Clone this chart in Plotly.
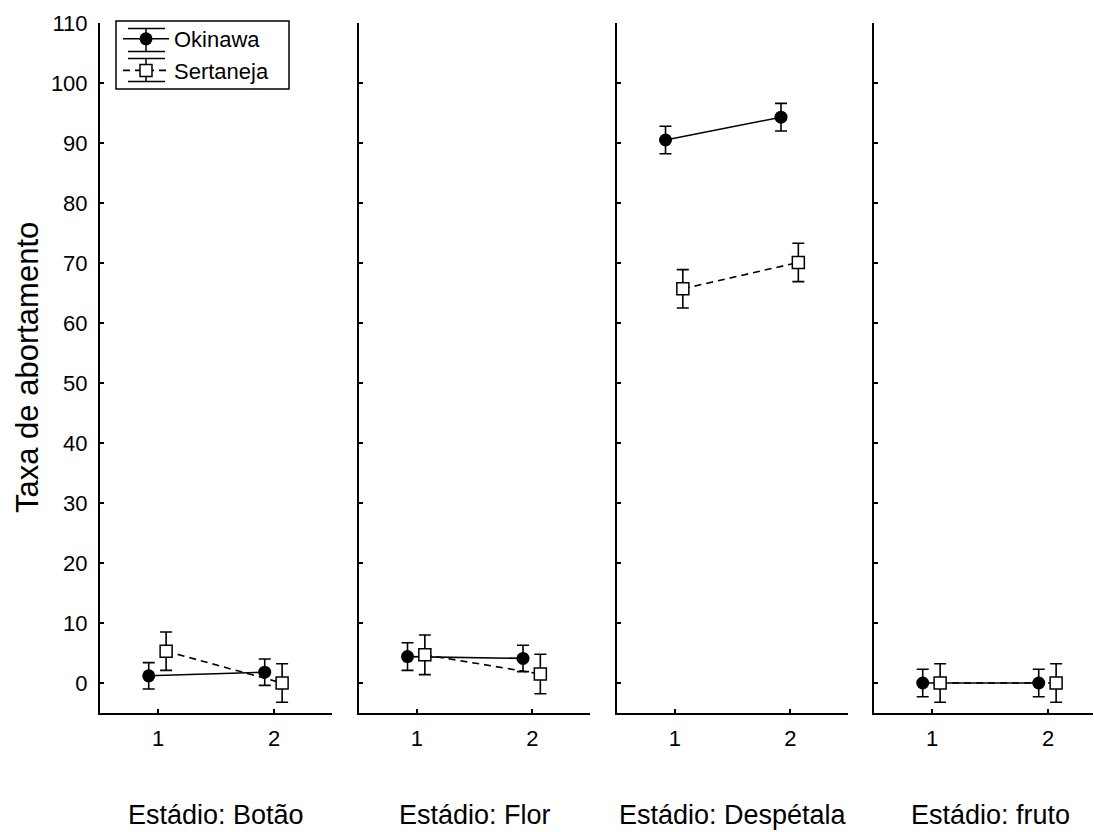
import plotly.graph_objects as go

# Abortion rate by stage and variety (mean ± standard error)
stages = ["Botão", "Flor", "Despétala", "fruto"]
levels = [1, 2]

okinawa_mean = [[1.2, 1.8], [4.4, 4.1], [90.5, 94.3], [0.0, 0.0]]
okinawa_err = [[2.2, 2.2], [2.3, 2.2], [2.3, 2.3], [2.3, 2.3]]

sertaneja_mean = [[5.3, 0.0], [4.7, 1.5], [65.7, 70.1], [0.0, 0.0]]
sertaneja_err = [[3.2, 3.2], [3.3, 3.3], [3.2, 3.2], [3.2, 3.2]]

y_ticks = list(range(0, 111, 10))

FONT = "Liberation Sans, Arial, sans-serif"
W, H = 1094, 832
ML, MR, MT, MB = 100, 1, 23, 119
plot_w = W - ML - MR
plot_h = H - MT - MB

# panel pixel extents (left, right); the last panel runs off the right edge
panel_px = [(100, 332), (359, 590), (617, 848), (874, 1093)]
domains = [[(a - ML) / plot_w, (b - ML) / plot_w] for a, b in panel_px]
unit_px = 116  # pixels per x unit in a full panel
x_ranges = [[0.5, 2.5]] * 3 + [[0.5, 0.5 + (panel_px[3][1] - panel_px[3][0]) / unit_px]]


def px_x(px):
    return (px - ML) / plot_w


def px_y(py):
    return (H - MB - py) / plot_h


fig = go.Figure()

for i, stage in enumerate(stages):
    xa = "x" if i == 0 else f"x{i+1}"
    ya = "y" if i == 0 else f"y{i+1}"
    fig.add_trace(go.Scatter(
        x=[lv - 0.08 for lv in levels], y=okinawa_mean[i],
        mode="lines+markers", name="Okinawa", showlegend=(i == 0),
        line=dict(color="black", width=1.6),
        marker=dict(symbol="circle", size=13, color="black"),
        error_y=dict(type="data", array=okinawa_err[i], color="black",
                     thickness=1.6, width=6),
        xaxis=xa, yaxis=ya,
    ))
    fig.add_trace(go.Scatter(
        x=[lv + 0.07 for lv in levels], y=sertaneja_mean[i],
        mode="lines+markers", name="Sertaneja", showlegend=(i == 0),
        line=dict(color="black", width=1.6, dash="7px,5px"),
        marker=dict(symbol="square", size=12, color="white",
                    line=dict(color="black", width=1.5)),
        error_y=dict(type="data", array=sertaneja_err[i], color="black",
                     thickness=1.6, width=6),
        xaxis=xa, yaxis=ya,
    ))

axis_common = dict(showgrid=False, zeroline=False, showline=True,
                   linecolor="black", linewidth=2, ticks="inside",
                   ticklen=4, tickwidth=1.5, tickcolor="black",
                   tickfont=dict(family=FONT, size=22, color="black"))

legend_left = 118
legend_top = 18
layout = dict(
    width=W, height=H,
    margin=dict(l=ML, r=MR, t=MT, b=MB),
    paper_bgcolor="white", plot_bgcolor="white",
    font=dict(family=FONT, color="black"),
    showlegend=True,
    legend=dict(x=px_x(legend_left), y=px_y(legend_top),
                xanchor="left", yanchor="top",
                borderwidth=0, bgcolor="rgba(0,0,0,0)",
                font=dict(family=FONT, size=22, color="black"),
                tracegroupgap=0, itemwidth=46),
)

for i, stage in enumerate(stages):
    xk = "xaxis" if i == 0 else f"xaxis{i+1}"
    yk = "yaxis" if i == 0 else f"yaxis{i+1}"
    ya = "y" if i == 0 else f"y{i+1}"
    xa = "x" if i == 0 else f"x{i+1}"
    layout[xk] = dict(axis_common, domain=domains[i], range=x_ranges[i],
                      tickvals=levels, ticktext=[str(v) for v in levels],
                      anchor=ya, ticklabelstandoff=5)
    layout[yk] = dict(axis_common, domain=[0, 1], range=[-5, 110],
                      tickvals=y_ticks, anchor=xa,
                      showticklabels=(i == 0), ticklabelstandoff=6)

fig.update_layout(**layout)

# legend frame and error-bar caps on the legend symbols
fig.add_shape(type="rect", xref="paper", yref="paper",
              x0=px_x(116), x1=px_x(289), y0=px_y(89), y1=px_y(21),
              line=dict(color="black", width=1.5), fillcolor="rgba(0,0,0,0)")
for cy in (40, 70):
    for dy in (-11.5, 11.5):
        fig.add_shape(type="line", xref="paper", yref="paper",
                      x0=px_x(128), x1=px_x(165),
                      y0=px_y(cy + dy), y1=px_y(cy + dy),
                      line=dict(color="black", width=1.5))
    fig.add_shape(type="line", xref="paper", yref="paper",
                  x0=px_x(146), x1=px_x(146),
                  y0=px_y(cy - 11.5), y1=px_y(cy + 11.5),
                  line=dict(color="black", width=1.5))

# panel captions under each x axis
for i, stage in enumerate(stages):
    cx = (panel_px[i][0] + panel_px[i][0] + 232) / 2
    fig.add_annotation(text=f"Estádio: {stage}", xref="paper",
                       yref="paper", x=px_x(cx), y=px_y(815),
                       xanchor="center", yanchor="middle", showarrow=False,
                       font=dict(family=FONT, size=27, color="black"))

fig.add_annotation(text="Taxa de abortamento", xref="paper", yref="paper",
                   x=px_x(27), y=0.5, xanchor="center",
                   yanchor="middle", textangle=-90, showarrow=False,
                   font=dict(family=FONT, size=31, color="black"))

fig.write_html("out.html")
